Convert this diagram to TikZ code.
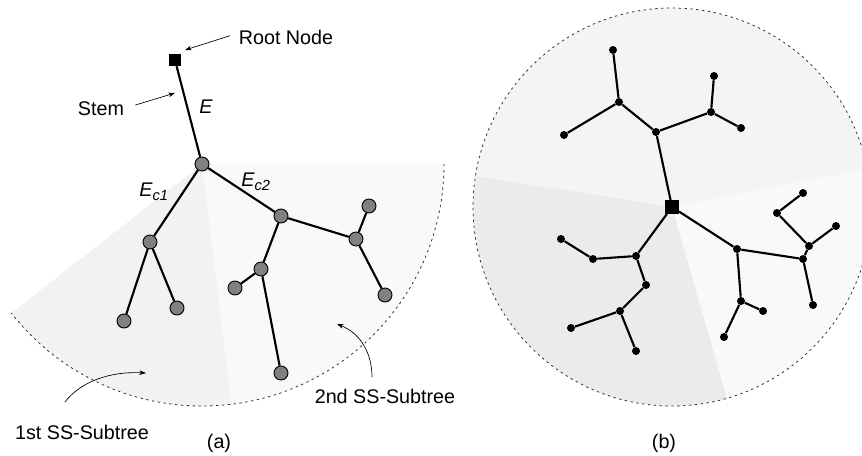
\documentclass[tikz,border=0pt]{standalone}
\usepackage{fontspec}
\setmainfont{Liberation Sans}
\usetikzlibrary{arrows.meta}

\begin{document}
\begin{tikzpicture}[x=0.75pt,y=-0.75pt,
    gnode/.style={circle,draw,fill=black!50,line width=0.7pt,minimum size=10.5pt,inner sep=0pt},
    bnode/.style={circle,fill=black,minimum size=6pt,inner sep=0pt},
    rootbox/.style={rectangle,fill=black,minimum size=#1,inner sep=0pt},
    edge/.style={line width=1.6pt},
    rim/.style={dash pattern=on 1.8pt off 2.6pt,line width=0.6pt,black!80},
    note/.style={-{Stealth[length=5pt,width=3.5pt]},line width=0.5pt},
    lbl/.style={font=\fontsize{14.8}{16}\selectfont}]
    \useasboundingbox (0,0) rectangle (862,455);

    % Shaded sectors of the two subtrees in (a)
    \coordinate (ca) at (202,164);
    \fill[black!2.5] (ca) -- ++(0:242) arc[start angle=0,end angle=83,radius=242] -- cycle;
    \fill[black!5] (ca) -- ++(83:242) arc[start angle=83,end angle=142,radius=242] -- cycle;
    \draw[rim] (ca) ++(0:242) arc[start angle=0,end angle=142,radius=242];

    % Shaded sectors in (b)
    \coordinate (cb) at (672,207);
    \fill[black!4.5] (cb) -- ++(189:199) arc[start angle=189,end angle=349,radius=199] -- cycle;
    \fill[black!2.5] (cb) -- ++(-11:199) arc[start angle=-11,end angle=74,radius=199] -- cycle;
    \fill[black!8] (cb) -- ++(74:199) arc[start angle=74,end angle=189,radius=199] -- cycle;
    \draw[rim] (cb) circle[radius=199];

    % Tree (a)
    \node[rootbox=9pt] (root) at (175,60) {};
    \node[gnode] (c) at (202,164) {};
    \node[gnode] (l1) at (150,242) {};
    \node[gnode] (l2) at (124,321) {};
    \node[gnode] (l3) at (177,308) {};
    \node[gnode] (r1) at (281,216) {};
    \node[gnode] (r2) at (261,269) {};
    \node[gnode] (r3) at (235,288) {};
    \node[gnode] (r4) at (281,373) {};
    \node[gnode] (r5) at (356,239) {};
    \node[gnode] (r6) at (369,206) {};
    \node[gnode] (r7) at (385,295) {};
    \draw[edge] (root) -- (c) -- (l1) -- (l2) (l1) -- (l3);
    \draw[edge] (c) -- (r1) -- (r2) -- (r3) (r2) -- (r4);
    \draw[edge] (r1) -- (r5) -- (r6) (r5) -- (r7);

    % Labels and pointers of (a)
    \node[lbl] (rootlbl) at (286,37) {Root Node};
    \node[lbl] (stemlbl) at (101,109) {Stem};
    \coordinate (rootpt) at (185,50);
    \coordinate (stempt) at (175,93);
    \draw[note] ([xshift=-3pt,yshift=1pt]rootlbl.west) -- (rootpt);
    \draw[note] ([xshift=5pt,yshift=3pt]stemlbl.east) -- (stempt);
    \node[lbl] (elbl) at (206,107) {\textit{E}};
    \node[lbl] (ec1) at (154,192) {\textit{E}\textsubscript{\textit{\fontsize{11}{12}\selectfont c1}}};
    \node[lbl] (ec2) at (256,182) {\textit{E}\textsubscript{\textit{\fontsize{11}{12}\selectfont c2}}};

    \node[lbl] (sub1) at (82,432) {1st SS-Subtree};
    \node[lbl] (sub2) at (385,396) {2nd SS-Subtree};
    \coordinate (sub1start) at (65,402);
    \coordinate (sub1pt) at (146,373);
    \coordinate (sub2start) at (372,377);
    \coordinate (sub2pt) at (337,324);
    \draw[note] (sub1start) .. controls (80,382) and (110,371) .. (sub1pt);
    \draw[note] (sub2start) .. controls (372,355) and (362,334) .. (sub2pt);
    \node[lbl] (capa) at (219,443) {(a)};

    % Tree (b)
    \node[rootbox=10pt] (b0) at (672,207) {};
    \node[bnode] (t1) at (656,132) {};
    \node[bnode] (t2) at (619,102) {};
    \node[bnode] (t3) at (613,50) {};
    \node[bnode] (t4) at (564,135) {};
    \node[bnode] (t5) at (711,112) {};
    \node[bnode] (t6) at (714,76) {};
    \node[bnode] (t7) at (741,128) {};
    \node[bnode] (u1) at (636,256) {};
    \node[bnode] (u2) at (593,259) {};
    \node[bnode] (u3) at (561,239) {};
    \node[bnode] (u4) at (646,285) {};
    \node[bnode] (u5) at (620,311) {};
    \node[bnode] (u6) at (571,328) {};
    \node[bnode] (u7) at (636,351) {};
    \node[bnode] (v1) at (737,249) {};
    \node[bnode] (v2) at (741,301) {};
    \node[bnode] (v3) at (763,311) {};
    \node[bnode] (v4) at (724,337) {};
    \node[bnode] (v5) at (803,259) {};
    \node[bnode] (v6) at (809,246) {};
    \node[bnode] (v7) at (777,213) {};
    \node[bnode] (v8) at (803,193) {};
    \node[bnode] (v9) at (836,226) {};
    \node[bnode] (v10) at (813,305) {};
    \draw[edge] (b0) -- (t1) -- (t2) -- (t3) (t2) -- (t4) (t1) -- (t5) -- (t6) (t5) -- (t7);
    \draw[edge] (b0) -- (u1) -- (u2) -- (u3) (u1) -- (u4) -- (u5) -- (u6) (u5) -- (u7);
    \draw[edge] (b0) -- (v1) -- (v2) -- (v3) (v2) -- (v4) (v1) -- (v5) -- (v6) -- (v7) -- (v8);
    \draw[edge] (v6) -- (v9) (v5) -- (v10);
    \node[lbl] (capb) at (664,443) {(b)};
\end{tikzpicture}
\end{document}
